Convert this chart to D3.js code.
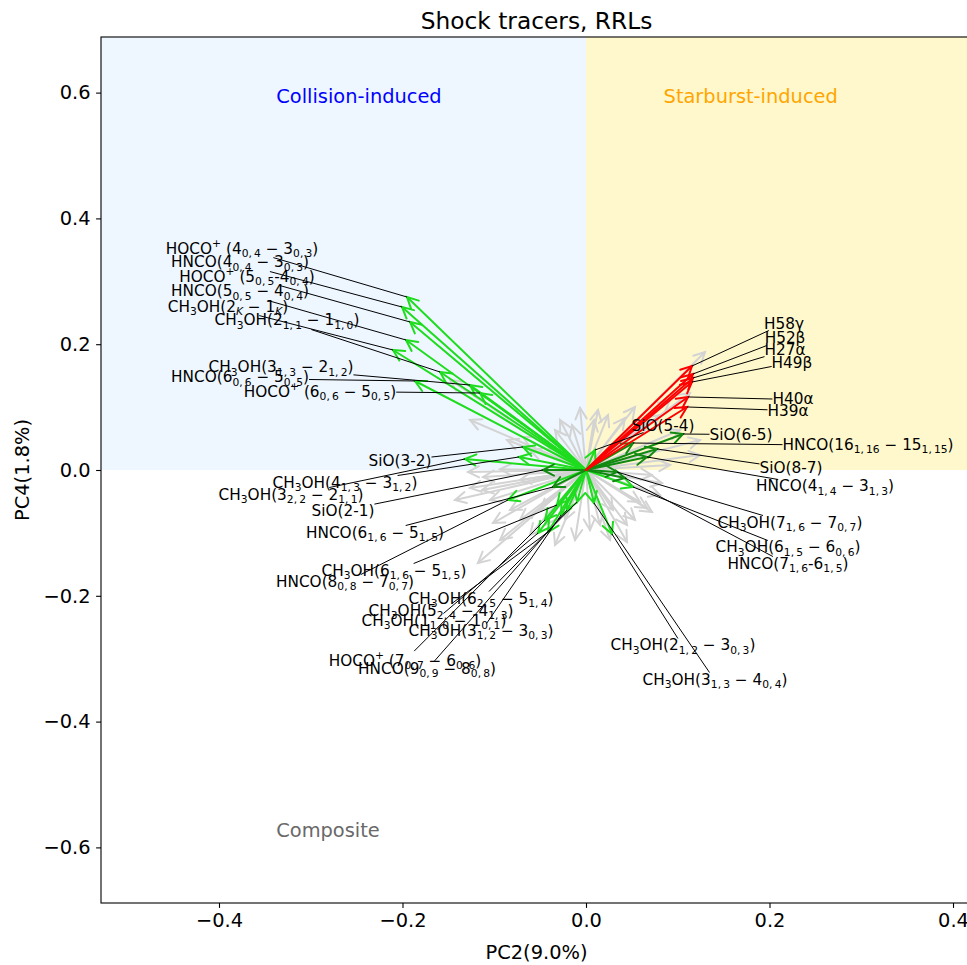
<!DOCTYPE html>
<html><head><meta charset="utf-8">
<script src="https://cdn.jsdelivr.net/npm/d3@7"></script>
<style>body{margin:0;background:#fff;} svg{display:block;font-family:"DejaVu Sans",sans-serif;}</style>
</head><body>
<svg id="c" width="967" height="965"></svg>
<script>
// ---------- data ----------
const xTicks = [-0.4, -0.2, 0.0, 0.2, 0.4];
const yTicks = [-0.6, -0.4, -0.2, 0.0, 0.2, 0.4, 0.6];

// unlabeled (grey) loading vectors
const grayX = [-0.0065,0.0131,0.0087,-0.0153,0.024,0.0534,0.0425,0.0698,0.1297,0.1133,0.0916,0.0807,0.1025,0.1243,
  0.0828,0.0719,0.0916,0.1243,0.0665,0.0719,0.0589,0.0447,0.0294,0.0447,0.0262,0.0153,0.0807,0.0534,
  0.0044,-0.012,-0.0229,-0.0338,-0.1178,-0.0937,-0.1013,-0.0719,-0.061,-0.0828,-0.0501,-0.0447,
  -0.1122,-0.1264,-0.1286,-0.1133,-0.0937,-0.1046,-0.0719,-0.0861,-0.0687,-0.061,-0.0447,-0.0338,-0.0283,-0.1482,-0.1264,-0.1428];
const grayY = [0.0986,0.0954,0.0795,0.0715,0.0874,0.1002,0.0827,0.0795,0.1876,0.1224,0.1113,0.0874,0.0636,0.0477,
  -0.0207,-0.008,0.008,0.0239,-0.0604,-0.0668,-0.0509,-0.1145,-0.0636,-0.0874,-0.1113,-0.0874,-0.0397,-0.0795,
  -0.0954,-0.1113,-0.0795,-0.1192,-0.1479,-0.1113,-0.0843,-0.0795,-0.1033,-0.0636,-0.0636,-0.0874,
  -0.0111,-0.0286,-0.0032,-0.0318,0.001,-0.0477,-0.0159,0.0477,0.0525,0.0318,0.0477,0.0636,0.0795,0.1431,0.0795,-0.0477];

// labelled vectors
const vecNames = [
  "HOCO^{+} (4_{0,4} − 3_{0,3})","HNCO(4_{0,4} − 3_{0,3})","HOCO^{+} (5_{0,5}-4_{0,4})","HNCO(5_{0,5} − 4_{0,4})",
  "CH_{3}OH(2_{K} − 1_{K})","CH_{3}OH(2_{1,1} − 1_{1,0})","CH_{3}OH(3_{1,3} − 2_{1,2})","HNCO(6_{0,6} − 5_{0,5})",
  "HOCO^{+} (6_{0,6} − 5_{0,5})","SiO(3-2)","CH_{3}OH(4_{1,3} − 3_{1,2})","CH_{3}OH(3_{2,2} − 2_{1,1})","SiO(2-1)",
  "HNCO(6_{1,6} − 5_{1,5})","CH_{3}OH(6_{1,6} − 5_{1,5})","HNCO(8_{0,8} − 7_{0,7})","CH_{3}OH(6_{2,5} − 5_{1,4})",
  "CH_{3}OH(5_{2,4} − 4_{1,3})","CH_{3}OH(1_{1,0} − 1_{0,1})","CH_{3}OH(3_{1,2} − 3_{0,3})","HOCO^{+} (7_{0,7} − 6_{0,6})",
  "HNCO(9_{0,9} − 8_{0,8})",
  "H58γ","H52β","H27α","H49β","H40α","H39α",
  "SiO(5-4)","SiO(6-5)","HNCO(16_{1,16} − 15_{1,15})","SiO(8-7)","HNCO(4_{1,4} − 3_{1,3})","CH_{3}OH(7_{1,6} − 7_{0,7})",
  "CH_{3}OH(6_{1,5} − 6_{0,6})","HNCO(7_{1,6}-6_{1,5})","CH_{3}OH(2_{1,2} − 3_{0,3})","CH_{3}OH(3_{1,3} − 4_{0,4})"];
const vecX = [-0.1951,-0.2005,-0.1918,-0.1962,-0.2104,-0.1591,-0.1264,-0.1864,-0.1155,-0.0687,-0.073,-0.1319,-0.0469,
  -0.036,-0.0316,-0.085,-0.0098,-0.0414,-0.0523,-0.0272,-0.0447,-0.0207,
  0.1155,0.1166,0.1166,0.1155,0.1112,0.1101,
  0.0098,0.1057,0.0512,0.0774,0.0665,0.0338,0.0512,0.0425,0.0283,0.0087];
const vecY = [0.275,0.2591,0.2353,0.2067,0.1908,0.1558,0.1351,0.1415,0.1224,0.0366,0.0207,0.0175,0.0,
  -0.027,-0.0556,-0.0477,-0.0509,-0.0986,-0.1002,-0.0715,-0.0795,-0.0636,
  0.1653,0.1526,0.1463,0.1399,0.1161,0.1002,
  0.0318,0.0572,0.0429,0.0334,0.0207,-0.0032,-0.027,-0.0127,-0.1017,-0.0525];
const vecGroup = ["shock","shock","shock","shock","shock","shock","shock","shock","shock","shock","shock","shock","sio",
  "sio","shock","shock","shock","shock","shock","shock","shock","shock",
  "rrl","rrl","rrl","rrl","rrl","rrl",
  "shock","sio","sio","sio","sio","sio","shock","sio","shock","shock"];

// label placement (data coordinates of label centre)
const labelPosX = [-0.3749,-0.3771,-0.3695,-0.3771,-0.3902,-0.3259,-0.3324,-0.3771,-0.2899,-0.2027,-0.2627,-0.3215,-0.2649,
  -0.23,-0.2093,-0.2627,-0.1144,-0.158,-0.1657,-0.1144,-0.1973,-0.1733,
  0.2158,0.2169,0.2169,0.2245,0.2256,0.2202,
  0.0839,0.1689,0.3074,0.2234,0.2605,0.2223,0.2202,0.2202,0.1057,0.1406];
const labelPosY = [0.3529,0.3307,0.3084,0.2846,0.2607,0.2385,0.1638,0.1479,0.1256,0.0159,-0.0191,-0.0382,-0.0636,
  -0.0986,-0.159,-0.1765,-0.2035,-0.2226,-0.2385,-0.2544,-0.3021,-0.3148,
  0.2337,0.2099,0.1908,0.1717,0.1129,0.0954,
  0.0715,0.0572,0.0413,0.0032,-0.0254,-0.0827,-0.1224,-0.1479,-0.2782,-0.3323];

const regionTexts = ["Collision-induced","Starburst-induced","Composite"];

// ---------- layout ----------
const svg = d3.select("#c");
const L = 101, R = 972, T = 37, B = 903;
const x = d3.scaleLinear().domain([-0.5286, 0.4207]).range([L, R]);
const y = d3.scaleLinear().domain([-0.6884, 0.6884]).range([B, T]);
const colors = {gray:"#d3d3d3", shock:"#1edc1e", sio:"#118a11", rrl:"#ff0000"};

svg.append("clipPath").attr("id","clip").append("rect").attr("x",L).attr("y",T).attr("width",R-L).attr("height",B-T);
const plot = svg.append("g").attr("clip-path","url(#clip)");

plot.append("rect").attr("x",x(x.domain()[0])).attr("y",y(y.domain()[1]))
  .attr("width",x(0)-x(x.domain()[0])).attr("height",y(0)-y(y.domain()[1])).attr("fill","#eef6ff");
plot.append("rect").attr("x",x(0)).attr("y",y(y.domain()[1]))
  .attr("width",x(x.domain()[1])-x(0)).attr("height",y(0)-y(y.domain()[1])).attr("fill","#fff8cc");

// region labels
const rt = [[-0.2474,0.5946,"#0000ff"],[0.1795,0.5946,"#ffa500"],[-0.2812,-0.5724,"#696969"]];
regionTexts.forEach((t,i)=>{
  plot.append("text").attr("x",x(rt[i][0])).attr("y",y(rt[i][1])+7).attr("text-anchor","middle")
    .attr("font-size",19.4).attr("fill",rt[i][2]).text(t);
});

function arrow(g, x1, y1, color, w){
  const X0 = x(0), Y0 = y(0), X1 = x(x1), Y1 = y(y1);
  const ang = Math.atan2(Y1-Y0, X1-X0);
  const hl = 11, hw = 5.6;
  const bx = X1 - hl*Math.cos(ang), by = Y1 - hl*Math.sin(ang);
  const px = -Math.sin(ang)*hw, py = Math.cos(ang)*hw;
  g.append("line").attr("x1",X0).attr("y1",Y0).attr("x2",X1).attr("y2",Y1)
    .attr("stroke",color).attr("stroke-width",w).attr("stroke-linecap","round");
  g.append("path").attr("d",`M${bx+px},${by+py}L${X1},${Y1}L${bx-px},${by-py}`)
    .attr("fill","none").attr("stroke",color).attr("stroke-width",w).attr("stroke-linejoin","miter").attr("stroke-linecap","round");
}
const ga = plot.append("g");
grayX.forEach((v,i)=>arrow(ga, v, grayY[i], colors.gray, 2));
["shock","sio","rrl"].forEach(grp=>{
  vecNames.forEach((n,i)=>{ if(vecGroup[i]===grp) arrow(ga, vecX[i], vecY[i], colors[grp], 2); });
});

// labels
const lineG = plot.append("g");
const textG = plot.append("g");
function addLabel(str, cx, cy, fs){
  const t = textG.append("text").attr("x",cx).attr("y",cy+0.36*fs).attr("text-anchor","middle").attr("font-size",fs).attr("fill","#000");
  const parts = str.split(/(_\{[^}]*\}|\^\{[^}]*\})/).filter(p=>p.length);
  let off = 0;
  parts.forEach(p=>{
    let target = 0, size = fs, txt = p, ital=false;
    if(p.startsWith("_{")){ target = 0.2*fs; size = 0.7*fs; txt = p.slice(2,-1).replace(/,/g,",\u2009"); }
    else if(p.startsWith("^{")){ target = -0.42*fs; size = 0.7*fs; txt = p.slice(2,-1); }
    if(txt==="K") ital=true;
    const ts = t.append("tspan").attr("dy", target-off).attr("font-size", size).text(txt);
    if(ital) ts.attr("font-style","italic");
    off = target;
  });
  return t;
}
vecNames.forEach((n,i)=>{
  const cx = x(labelPosX[i]), cy = y(labelPosY[i]);
  const t = addLabel(n, cx, cy, 15.3);
  const bb = t.node().getBBox();
  const mx = bb.x+bb.width/2, my = bb.y+bb.height/2;
  const tx = x(vecX[i]), ty = y(vecY[i]);
  const dx = tx-mx, dy = ty-my;
  const hw = bb.width/2, hh = bb.height/2 - 2;
  const s = Math.min(Math.abs(dx)>1e-9? hw/Math.abs(dx):1e9, Math.abs(dy)>1e-9? hh/Math.abs(dy):1e9);
  if(s<1){
    lineG.append("line").attr("x1",mx+s*dx).attr("y1",my+s*dy).attr("x2",tx).attr("y2",ty)
      .attr("stroke","#000").attr("stroke-width",1);
  }
});

// axes
const xa = svg.append("g").attr("transform",`translate(0,${B})`)
  .call(d3.axisBottom(x).tickValues(xTicks).tickFormat(d3.format(".1f")).tickSize(4.9).tickPadding(5.5));
const ya = svg.append("g").attr("transform",`translate(${L},0)`)
  .call(d3.axisLeft(y).tickValues(yTicks).tickFormat(d3.format(".1f")).tickSize(4.9).tickPadding(5.5));
[xa,ya].forEach(a=>{
  a.select(".domain").remove();
  a.selectAll("line").attr("stroke","#000").attr("stroke-width",1.1);
  a.selectAll("text").attr("font-size",19.4).attr("font-family","DejaVu Sans").attr("fill","#000");
});
svg.append("rect").attr("x",L).attr("y",T).attr("width",R-L).attr("height",B-T)
  .attr("fill","none").attr("stroke","#000").attr("stroke-width",1.1);

svg.append("text").attr("x",(L+R)/2).attr("y",28.5).attr("text-anchor","middle").attr("font-size",23.3).text("Shock tracers, RRLs");
svg.append("text").attr("x",(L+R)/2).attr("y",959).attr("text-anchor","middle").attr("font-size",19.4).text("PC2(9.0%)");
svg.append("text").attr("transform",`translate(29,${(T+B)/2}) rotate(-90)`).attr("text-anchor","middle").attr("font-size",19.4).text("PC4(1.8%)");
</script>
</body></html>
